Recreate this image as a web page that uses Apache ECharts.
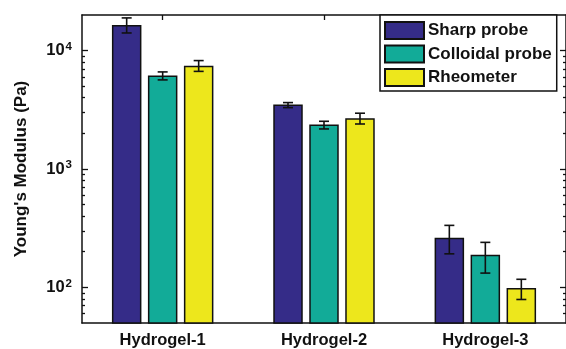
<!DOCTYPE html>
<html>
<head>
<meta charset="utf-8">
<script src="https://cdn.jsdelivr.net/npm/echarts@6/dist/echarts.min.js"></script>
<style>
  html, body { margin: 0; padding: 0; background: #ffffff; }
  #chart { width: 566px; height: 349px; }
</style>
</head>
<body>
<div id="chart"></div>
<script>
// Young's modulus of three hydrogels measured by three methods
const categories = ['Hydrogel-1', 'Hydrogel-2', 'Hydrogel-3'];
const seriesNames = ['Sharp probe', 'Colloidal probe', 'Rheometer'];

const sharpProbe = [16500, 3500, 262];
const sharpLow = [14100, 3300, 192];
const sharpHigh = [18900, 3640, 334];

const colloidalProbe = [6150, 2375, 189];
const colloidalLow = [5660, 2180, 132];
const colloidalHigh = [6610, 2530, 240];

const rheometer = [7470, 2690, 99];
const rheometerLow = [6680, 2400, 79];
const rheometerHigh = [8240, 2960, 117];

const majorTicks = [100, 1000, 10000];
const minorTicks = [60, 70, 80, 90, 200, 300, 400, 500, 600, 700, 800, 900,
                    2000, 3000, 4000, 5000, 6000, 7000, 8000, 9000];

const colors = ['#352c88', '#12ab98', '#ede71c'];
const FONT = '"Liberation Sans", Arial, sans-serif';
const BAR_W = 29.5;
const BAR_STEP = 36;

const values = [sharpProbe, colloidalProbe, rheometer];
const lows = [sharpLow, colloidalLow, rheometerLow];
const highs = [sharpHigh, colloidalHigh, rheometerHigh];

const chart = echarts.init(document.getElementById('chart'), null, { renderer: 'canvas' });

function logAxis(position, tickValues, tickLen, showLine, extra) {
  return Object.assign({
    type: 'log',
    logBase: 10,
    min: 50,
    max: 20000,
    position: position,
    axisLine: { show: showLine, lineStyle: { color: '#111', width: 1.5 } },
    axisTick: { show: true, inside: true, length: tickLen, customValues: tickValues,
                lineStyle: { color: '#111', width: 1.3 } },
    axisLabel: { show: false },
    splitLine: { show: false }
  }, extra || {});
}

const barSeries = seriesNames.map((name, i) => ({
  name: name,
  type: 'bar',
  xAxisIndex: 0,
  yAxisIndex: 0,
  data: values[i],
  barWidth: BAR_W,
  barGap: '22%',
  itemStyle: { color: colors[i], borderColor: '#111', borderWidth: 1.5 },
  z: 3
}));

const errorSeries = seriesNames.map((name, i) => ({
  type: 'custom',
  xAxisIndex: 0,
  yAxisIndex: 0,
  z: 5,
  silent: true,
  data: categories.map((c, k) => [k, lows[i][k], highs[i][k]]),
  renderItem: function (params, api) {
    const k = api.value(0);
    const lo = api.coord([k, api.value(1)]);
    const hi = api.coord([k, api.value(2)]);
    const x = lo[0] + (i - 1) * BAR_STEP;
    const cap = 5;
    const style = { stroke: '#111', lineWidth: 1.6 };
    return {
      type: 'group',
      children: [
        { type: 'line', shape: { x1: x, y1: lo[1], x2: x, y2: hi[1] }, style: style },
        { type: 'line', shape: { x1: x - cap, y1: lo[1], x2: x + cap, y2: lo[1] }, style: style },
        { type: 'line', shape: { x1: x - cap, y1: hi[1], x2: x + cap, y2: hi[1] }, style: style }
      ]
    };
  }
}));

chart.setOption({
  animation: false,
  backgroundColor: '#ffffff',
  textStyle: { fontFamily: FONT },
  grid: { left: 82, right: 0, top: 15, bottom: 26, containLabel: false },
  legend: {
    orient: 'vertical',
    left: 380,
    top: 15,
    data: seriesNames,
    itemWidth: 39,
    itemHeight: 17,
    itemGap: 4.5,
    padding: [6, 5, 4, 4],
    backgroundColor: '#ffffff',
    borderColor: '#111',
    borderWidth: 1.5,
    icon: 'rect',
    textStyle: { fontFamily: FONT, fontWeight: 'bold', fontSize: 17, lineHeight: 17, color: '#111', padding: [0, 0, 0, -1] },
    z: 10
  },
  xAxis: [
    {
      type: 'category',
      data: categories,
      position: 'bottom',
      axisLine: { show: true, lineStyle: { color: '#111', width: 1.5 } },
      axisTick: { show: true, inside: true, alignWithLabel: true, length: 5,
                  lineStyle: { color: '#111', width: 1.3 } },
      axisLabel: { fontFamily: FONT, fontWeight: 'bold', fontSize: 16.5, color: '#111', margin: 9 }
    },
    {
      type: 'category',
      data: categories,
      position: 'top',
      axisLine: { show: true, lineStyle: { color: '#111', width: 1.5 } },
      axisTick: { show: true, inside: true, alignWithLabel: true, length: 5,
                  lineStyle: { color: '#111', width: 1.3 } },
      axisLabel: { show: false }
    }
  ],
  yAxis: [
    logAxis('left', majorTicks, 6, true, {
      name: "Young's Modulus (Pa)",
      nameLocation: 'middle',
      nameGap: 52,
      nameTextStyle: { fontFamily: FONT, fontWeight: 'bold', fontSize: 17, color: '#111' },
      axisLabel: {
        show: true,
        customValues: majorTicks,
        margin: 10,
        formatter: function (v) {
          const e = Math.round(Math.log10(v));
          return '{b|10}{s|' + e + '}';
        },
        rich: {
          b: { fontFamily: FONT, fontWeight: 'bold', fontSize: 16.5, color: '#111' },
          s: { fontFamily: FONT, fontWeight: 'bold', fontSize: 11.5, color: '#111', verticalAlign: 'top', padding: [0, 0, 8, 1] }
        }
      }
    }),
    logAxis('left', minorTicks, 3, false),
    logAxis('right', majorTicks, 6, true),
    logAxis('right', minorTicks, 3, false)
  ],
  series: barSeries.concat(errorSeries)
});
</script>
</body>
</html>
